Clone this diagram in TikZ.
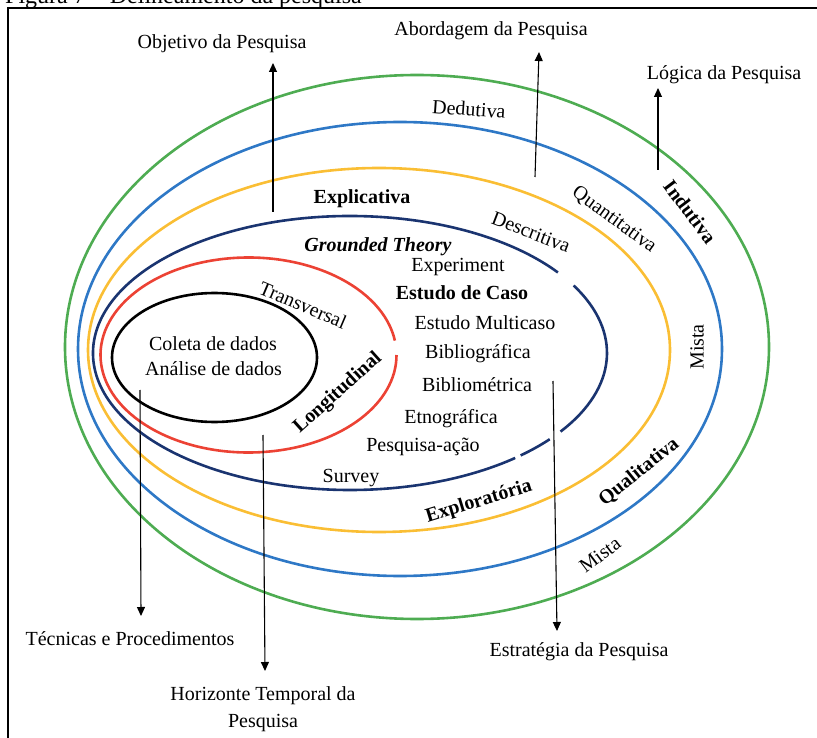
\documentclass[tikz,border=0pt]{standalone}
\usepackage{fontspec}
\setmainfont{Liberation Serif}
\usetikzlibrary{arrows.meta}
\definecolor{cgreen}{RGB}{78,172,82}
\definecolor{cblue}{RGB}{46,120,198}
\definecolor{cyellow}{RGB}{250,190,52}
\definecolor{cnavy}{RGB}{26,52,112}
\definecolor{cred}{RGB}{236,66,52}
\begin{document}
\begin{tikzpicture}[x=1pt,y=-1pt,
  ring/.style={line width=2.6pt},
  lbl/.style={font=\fontsize{20}{22}\selectfont, inner sep=0pt},
  blbl/.style={font=\fontsize{20}{22}\selectfont\bfseries, inner sep=0pt},
  bilbl/.style={font=\fontsize{20}{22}\selectfont\bfseries\itshape, inner sep=0pt},
  arr/.style={line width=1.1pt, -{Triangle[length=9pt,width=8pt]}}]
\useasboundingbox (0,0) rectangle (817,738);
% frame and cut caption
\draw[line width=2.2pt] (8,770) -- (8,8) -- (840,8);
\node[anchor=base west, font=\fontsize{24}{26}\selectfont, inner sep=0pt] (cap) at (5,4) {Figura 7 – Delineamento da pesquisa};
% rings
\draw[ring,cgreen] (417,347) ellipse [x radius=352pt, y radius=272pt];
\draw[ring,cblue] (400,349) ellipse [x radius=322pt, y radius=227pt];
\draw[ring,cyellow] (379,350) ellipse [x radius=291pt, y radius=182pt];
\draw[ring,cnavy] (350,353) ++(36:257pt and 137pt) arc[start angle=36,end angle=310,x radius=257pt,y radius=137pt];
\draw[ring,cnavy] (350,353) ++(-48.4:257pt and 137pt) arc[start angle=-48.4,end angle=-39,x radius=257pt,y radius=137pt];
\draw[ring,cnavy] (350,353) ++(-35:257pt and 137pt) arc[start angle=-35,end angle=29.5,x radius=257pt,y radius=137pt];
\draw[ring,cred] (248.5,355) ++(8.5:148pt and 97.5pt) arc[start angle=8.5,end angle=360,x radius=148pt,y radius=97.5pt];
\draw[ring,black] (214.5,357.5) ellipse [x radius=102.5pt, y radius=64.5pt];
% arrow end points
\coordinate (objS) at (273,212); \coordinate (objT) at (273,63);
\coordinate (abS) at (535,177); \coordinate (abT) at (539,52);
\coordinate (logS) at (658,170); \coordinate (logT) at (658,88);
\coordinate (tecS) at (140,390); \coordinate (tecT) at (141,616);
\coordinate (horS) at (263,435); \coordinate (horT) at (265,671);
\coordinate (estS) at (553,381); \coordinate (estT) at (557,631);
\draw[arr] (objS) -- (objT);
\draw[arr] (abS) -- (abT);
\draw[arr] (logS) -- (logT);
\draw[arr] (tecS) -- (tecT);
\draw[arr] (horS) -- (horT);
\draw[arr] (estS) -- (estT);
% outer labels
\node[lbl,anchor=base] (objetivo) at (222,49) {Objetivo da Pesquisa};
\node[lbl,anchor=base] (abordagem) at (491,36) {Abordagem da Pesquisa};
\node[lbl,anchor=base] (logica) at (724,80) {Lógica da Pesquisa};
\node[lbl,anchor=base] (tecnicas) at (130,645) {Técnicas e Procedimentos};
\node[lbl,anchor=base] (estrategia) at (579,656) {Estratégia da Pesquisa};
\node[lbl,anchor=base] (horiz1) at (263,700) {Horizonte Temporal da};
\node[lbl,anchor=base] (horiz2) at (263,727) {Pesquisa};
% ring labels
\node[lbl,rotate=-4] (dedutiva) at (469,109) {Dedutiva};
\node[lbl,rotate=-36] (quant) at (614,220) {Quantitativa};
\node[blbl,rotate=-53] (indutiva) at (690,212) {Indutiva};
\node[lbl,rotate=-21] (descritiva) at (531,232) {Descritiva};
\node[lbl,rotate=-23] (transversal) at (303,305) {Transversal};
\node[blbl,rotate=42] (longitudinal) at (338,393) {Longitudinal};
\node[blbl,rotate=17] (exploratoria) at (479,502) {Exploratória};
\node[blbl,rotate=39] (qualitativa) at (639,472) {Qualitativa};
\node[lbl,rotate=90] (mista1) at (697,347) {Mista};
\node[lbl,rotate=37] (mista2) at (600,555) {Mista};
% inner labels
\node[blbl,anchor=base] (explicativa) at (362,204) {Explicativa};
\node[bilbl,anchor=base] (grounded) at (378,252) {Grounded Theory};
\node[lbl,anchor=base] (experiment) at (458,272) {Experiment};
\node[blbl,anchor=base] (caso) at (462,299) {Estudo de Caso};
\node[lbl,anchor=base] (multicaso) at (485,329) {Estudo Multicaso};
\node[lbl,anchor=base] (bibliografica) at (478,358) {Bibliográfica};
\node[lbl,anchor=base] (bibliometrica) at (477,391) {Bibliométrica};
\node[lbl,anchor=base] (etnografica) at (451,423) {Etnográfica};
\node[lbl,anchor=base] (pesqacao) at (423,451) {Pesquisa-ação};
\node[lbl,anchor=base] (survey) at (351,482) {Survey};
\node[lbl,anchor=base] (coleta) at (213,350) {Coleta de dados};
\node[lbl,anchor=base] (analise) at (213.5,375) {Análise de dados};
\end{tikzpicture}
\end{document}
